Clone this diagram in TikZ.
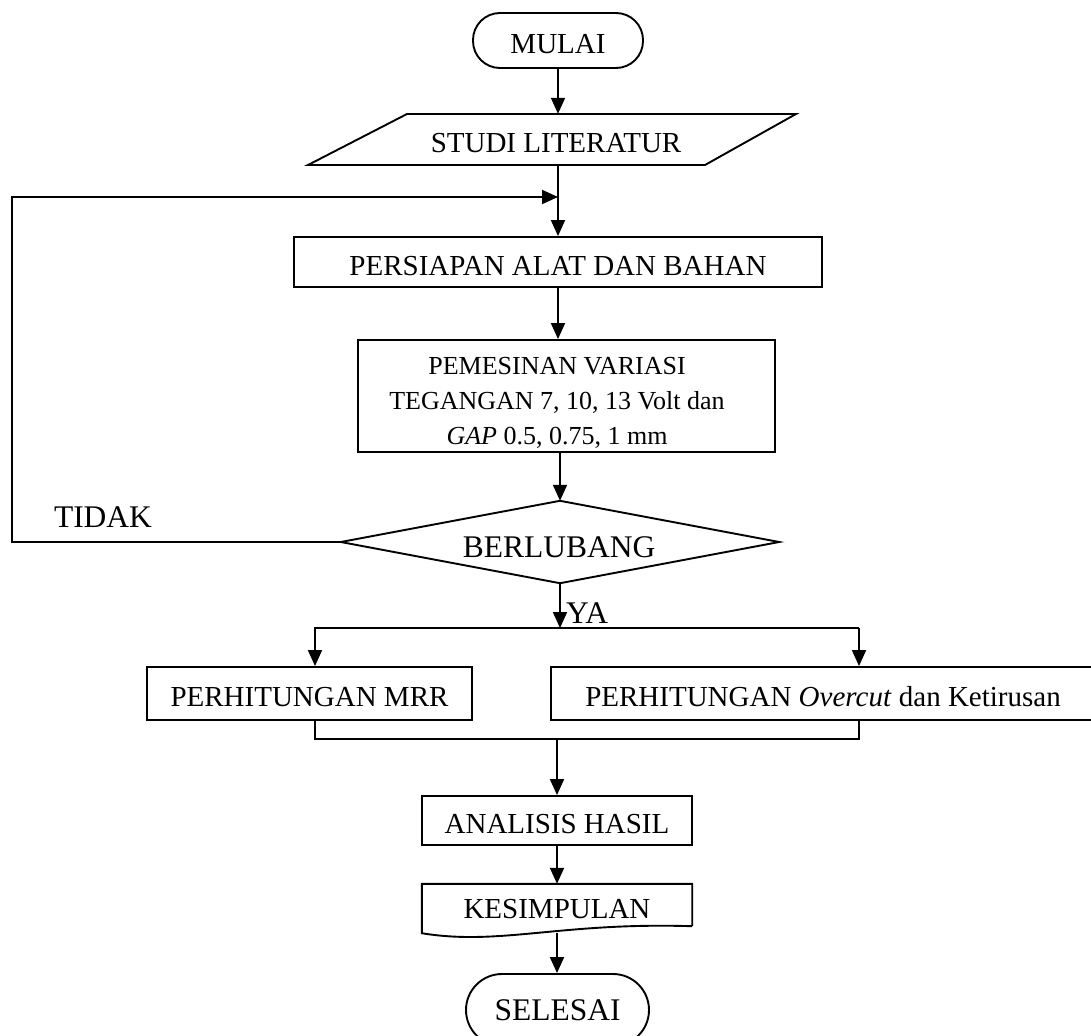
\documentclass[tikz,border=0pt]{standalone}
\usepackage{fontspec}
\setmainfont{Liberation Serif}
\usetikzlibrary{arrows.meta}
\begin{document}
\begin{tikzpicture}[x=1pt,y=-1pt,
  base/.style={font=\fontsize{29}{34}\selectfont, inner sep=0pt, text height=26pt, text depth=0pt},
  big/.style={base, font=\fontsize{31.5}{36}\selectfont, text height=28.5pt},
  box/.style={base, draw, line width=1.9pt, rectangle},
  term/.style={box, rounded corners=27pt},
  conn/.style={line width=1.9pt},
  arr/.style={conn, -{Triangle[length=16pt,width=14pt]}}
]
\useasboundingbox[fill=white] (0,0) rectangle (1091,1035);

% nodes
\node[term, minimum width=170pt, minimum height=55pt] (mulai) at (558,40.5) {MULAI};
\node[base, minimum width=300pt, minimum height=51pt] (studi) at (556,139.5) {STUDI LITERATUR};
\draw[conn] (407,114) -- (796,114) -- (705,165) -- (308,165) -- cycle;
\node[box, minimum width=528pt, minimum height=50pt] (persiapan) at (558,262) {PERSIAPAN ALAT DAN BAHAN};
\node[box, minimum width=417pt, minimum height=112pt] (pembox) at (566.5,396) {};
\node[inner sep=0pt, align=center, font=\fontsize{26}{35}\selectfont] (pemtext) at (557,403)
  {PEMESINAN VARIASI\\TEGANGAN 7, 10, 13 Volt dan\\\textit{GAP} 0.5, 0.75, 1 mm};
\node[minimum width=438pt, minimum height=82pt, inner sep=0pt] (dec) at (560,542) {};
\draw[conn] (dec.west) -- (dec.north) -- (dec.east) -- (dec.south) -- cycle;
\node[big] (berl) at (559,543) {BERLUBANG};
\node[big] (tidak) at (103,513.5) {TIDAK};
\node[big, anchor=west] (ya) at (566,609.5) {YA};
\node[box, minimum width=325pt, minimum height=53pt] (mrr) at (309.5,693.5) {PERHITUNGAN MRR};
\node[box, minimum width=544pt, minimum height=53pt] (oc) at (823,693.5) {PERHITUNGAN \textit{Overcut} dan Ketirusan};
\node[box, minimum width=270pt, minimum height=49pt] (ana) at (557,820.5) {ANALISIS HASIL};
\node[base, minimum width=270pt, minimum height=42pt] (kes) at (557,905) {KESIMPULAN};
\draw[conn] (kes.south east) -- (kes.north east) -- (kes.north west) -- ([yshift=-7pt]kes.south west)
  .. controls (500,946) and (560,922) .. (kes.south east);
\node[term, font=\fontsize{31.5}{36}\selectfont, text height=21pt, minimum width=183pt, minimum height=72pt, rounded corners=36pt] (sel) at (557.5,1010) {SELESAI};

% coordinates
\coordinate (lb) at (12,542);
\coordinate (lt) at (12,197);
\coordinate (lj) at (558,197);
\coordinate (sl) at (315,628);
\coordinate (sr) at (859,628);
\coordinate (ml) at (315,739);
\coordinate (mr) at (859,739);
\coordinate (kb) at (557,933);

% connectors
\draw[arr] (mulai.south) -- (mulai.south |- studi.north);
\draw[arr] (studi.south -| persiapan.north) -- (persiapan.north);
\draw[arr] (dec.west) -- (lb) -- (lt) -- (lj);
\draw[arr] (persiapan.south) -- (persiapan.south |- pembox.north);
\draw[arr] (pembox.south -| dec.north) -- (dec.north);
\draw[arr] (dec.south) -- (dec.south |- sl);
\draw[arr] (sr) -- (sl) -- (sl |- mrr.north);
\draw[arr] (sr) -- (sr |- oc.north);
\draw[conn] (mrr.south -| ml) -- (ml) -- (mr) -- (oc.south -| mr);
\draw[arr] (ml -| ana.north) -- (ana.north);
\draw[arr] (ana.south) -- (ana.south |- kes.north);
\draw[arr] (kb) -- (kb |- sel.north);
\end{tikzpicture}
\end{document}
